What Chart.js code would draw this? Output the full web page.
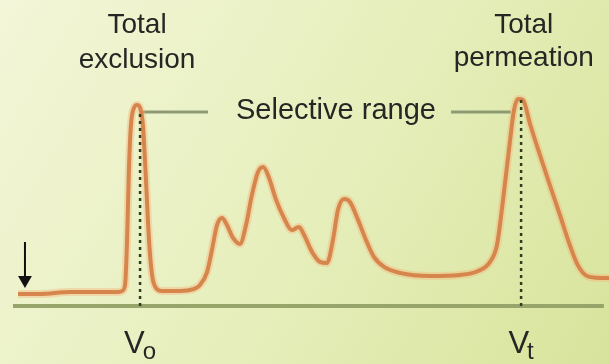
<!DOCTYPE html>
<html>
<head>
<meta charset="utf-8">
<script src="https://cdn.jsdelivr.net/npm/chart.js@4/dist/chart.umd.min.js"></script>
<style>
  html,body{margin:0;padding:0;background:#eef3cc;}
  #wrap{width:609px;height:364px;}
</style>
</head>
<body>
<div id="wrap"><canvas id="c" width="609" height="364"></canvas></div>
<script>
// Elution volume (mL) and absorbance (% of max)
const elutionVolume = [0.89,1.97,3.45,4.93,5.81,6.01,6.16,6.26,6.35,6.45,6.60,6.75,6.90,7.04,7.19,7.34,7.49,7.68,7.98,8.62,9.36,9.85,10.20,10.44,10.69,10.94,11.18,11.48,11.82,12.12,12.41,12.71,12.96,13.20,13.60,13.99,14.38,14.73,14.98,15.37,15.76,16.11,16.40,16.65,16.95,17.24,17.64,18.03,18.42,18.92,19.70,21.18,22.66,23.55,24.14,24.48,24.78,25.07,25.32,25.52,25.76,26.11,26.60,27.09,27.59,28.08,28.47,28.92,29.56,30.0];
const absorbance = [5.8,5.8,6.7,6.7,6.7,7.2,10.1,31.7,65.4,87.0,95.2,96.6,95.2,87.0,60.6,31.7,14.9,8.7,7.2,7.2,7.7,10.1,16.3,26.9,38.9,42.3,38.9,32.7,29.8,38.9,53.4,64.4,66.8,63.0,51.0,42.3,36.5,38.0,34.1,26.0,21.2,20.7,31.7,46.2,51.4,50.0,41.3,31.7,23.6,18.8,15.9,14.4,14.9,16.8,21.2,29.3,51.0,75.0,94.2,99.5,99.0,87.5,72.5,58.0,43.5,29.0,19.5,14.4,13.5,13.5];

const Vo = 6.90;            // void volume (total exclusion)
const Vt = 25.67;           // total volume (total permeation)
const VoTop = 93.0;
const VtTop = 99.0;
const axisStart = 0.64, axisEnd = 29.75;
const selectiveY = 93.3;
const selectiveLeft = [Vo, 10.25];
const selectiveRight = [22.22, 25.17];
const injection = {x: 1.23, from: 30.8, to: 12.5};

const topLabels = [
  {x: 6.75, lines: ["Total", "exclusion"], y: [131.3, 114.4]},
  {x: 25.8, lines: ["Total", "permeation"], y: [131.3, 115.4]}
];
const volumeLabels = [
  {x: Vo, main: "V", sub: "o"},
  {x: Vt, main: "V", sub: "t"}
];
const selectiveLabel = {x: 16.55, y: 93.3, text: "Selective range"};

const curve = elutionVolume.map((v, i) => ({x: v, y: absorbance[i]}));

const bgPlugin = {
  id: 'bg',
  beforeDraw(chart) {
    const ctx = chart.ctx, w = chart.width, h = chart.height;
    const g = ctx.createLinearGradient(0, 0, w, h);
    g.addColorStop(0, '#f3f6d8');
    g.addColorStop(0.5, '#e7efbd');
    g.addColorStop(1, '#d8e49c');
    ctx.save();
    ctx.fillStyle = g;
    ctx.fillRect(0, 0, w, h);
    ctx.restore();
  }
};

const textPlugin = {
  id: 'texts',
  afterDraw(chart) {
    const ctx = chart.ctx;
    const xs = chart.scales.x, ys = chart.scales.y;
    ctx.save();
    ctx.fillStyle = '#262624';
    ctx.textBaseline = 'alphabetic';
    ctx.textAlign = 'center';
    ctx.font = '28px "Liberation Sans", Arial, sans-serif';
    topLabels.forEach(l => {
      l.lines.forEach((t, i) => ctx.fillText(t, xs.getPixelForValue(l.x), ys.getPixelForValue(l.y[i])));
    });
    ctx.font = '29px "Liberation Sans", Arial, sans-serif';
    ctx.textBaseline = 'middle';
    ctx.fillText(selectiveLabel.text, xs.getPixelForValue(selectiveLabel.x), ys.getPixelForValue(selectiveLabel.y) - 1);
    ctx.textBaseline = 'alphabetic';
    ctx.textAlign = 'left';
    volumeLabels.forEach(l => {
      ctx.font = '31px "Liberation Sans", Arial, sans-serif';
      const wm = ctx.measureText(l.main).width;
      ctx.font = '24px "Liberation Sans", Arial, sans-serif';
      const ws = ctx.measureText(l.sub).width;
      const total = wm + ws - 2;
      const x0 = xs.getPixelForValue(l.x) - total / 2;
      const base = ys.getPixelForValue(-22.5);
      ctx.font = '31px "Liberation Sans", Arial, sans-serif';
      ctx.fillText(l.main, x0, base);
      ctx.font = '24px "Liberation Sans", Arial, sans-serif';
      ctx.fillText(l.sub, x0 + wm - 2, base + 6);
    });
    ctx.restore();
  }
};

new Chart(document.getElementById('c'), {
  type: 'line',
  data: {
    datasets: [
      { // Vo dotted
        data: [{x: Vo, y: 0}, {x: Vo, y: VoTop}],
        borderColor: '#2f3d22', borderWidth: 2.5, borderDash: [3, 4],
        pointRadius: 0, order: 0
      },
      { // Vt dotted
        data: [{x: Vt, y: 0}, {x: Vt, y: VtTop}],
        borderColor: '#2f3d22', borderWidth: 2.5, borderDash: [3, 4],
        pointRadius: 0, order: 0
      },
      { // elution curve
        data: curve,
        borderColor: '#d6854c', borderWidth: 4,
        cubicInterpolationMode: 'monotone',
        pointRadius: 0, order: 1
      },
      { // curve halo
        data: curve,
        borderColor: 'rgba(244,178,120,0.4)', borderWidth: 8,
        cubicInterpolationMode: 'monotone',
        pointRadius: 0, order: 2
      },
      { // selective range leader left
        data: [{x: selectiveLeft[0], y: selectiveY}, {x: selectiveLeft[1], y: selectiveY}],
        borderColor: '#8e9a74', borderWidth: 3, pointRadius: 0, order: 3
      },
      { // selective range leader right
        data: [{x: selectiveRight[0], y: selectiveY}, {x: selectiveRight[1], y: selectiveY}],
        borderColor: '#8e9a74', borderWidth: 3, pointRadius: 0, order: 3
      },
      { // baseline axis
        data: [{x: axisStart, y: 0}, {x: axisEnd, y: 0}],
        borderColor: '#97a56b', borderWidth: 4, pointRadius: 0, order: 4
      },
      { // injection arrow
        data: [{x: injection.x, y: injection.from}, {x: injection.x, y: injection.to}],
        borderColor: '#111', borderWidth: 2,
        pointRadius: [0, 8], pointStyle: 'triangle', rotation: 180,
        pointBackgroundColor: '#111', pointBorderColor: '#111', pointBorderWidth: 0,
        order: 0
      }
    ]
  },
  options: {
    responsive: false,
    devicePixelRatio: 1,
    animation: false,
    layout: {padding: 0, autoPadding: false},
    plugins: {legend: {display: false}, tooltip: {enabled: false}},
    elements: {line: {fill: false}},
    scales: {
      x: {type: 'linear', display: false, min: 0, max: 30},
      y: {type: 'linear', display: false, min: -27.9, max: 147.1}
    }
  },
  plugins: [bgPlugin, textPlugin]
});
</script>
</body>
</html>
